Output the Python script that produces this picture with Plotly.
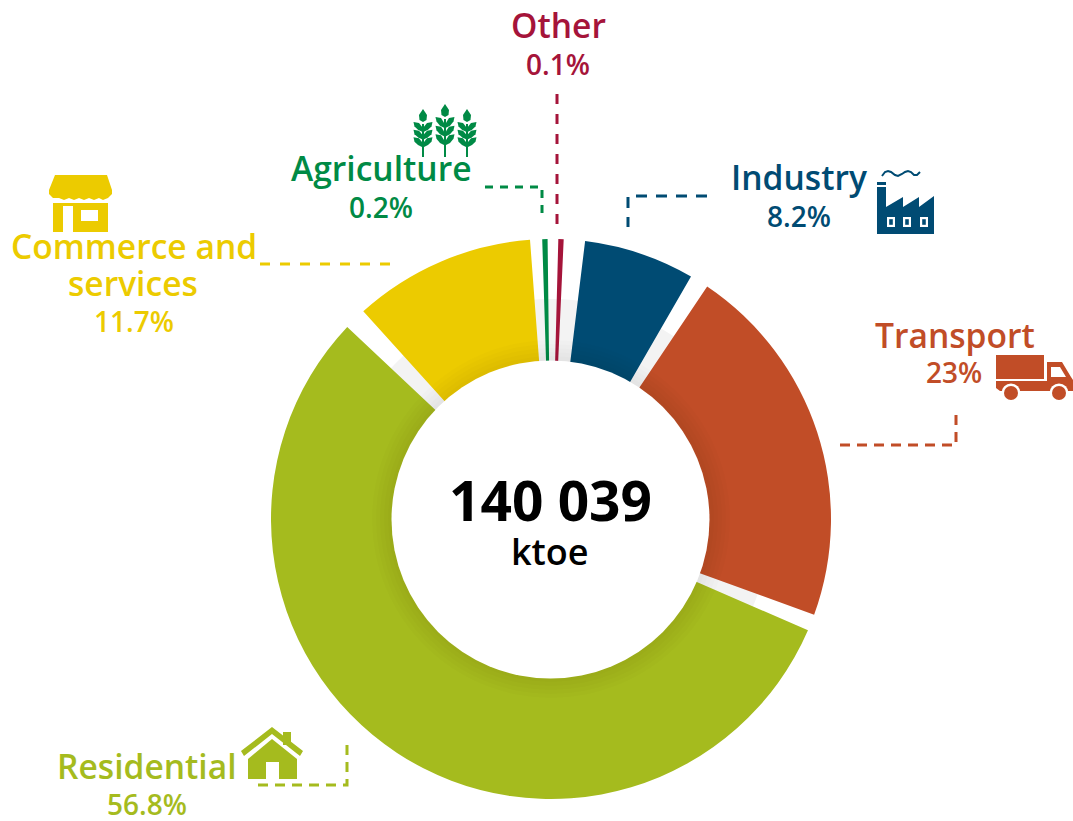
import plotly.graph_objects as go

W, H = 1073, 821
CX, CY = 551, 519
R_OUT, R_IN, R_GRAY = 280, 157, 220

# Slices clockwise from the top, with the white gaps the picture shows between them
categories = ["Agriculture", "gap1", "Other", "gap2", "Industry", "gap3", "Transport",
              "gap4", "Residential", "gap5", "Commerce and services", "gap6"]
drawn_arc = [1.1, 2.2, 1.1, 4.4, 23.0, 3.9, 76.1, 3.4, 199.9, 4.6, 37.8, 2.5]
slice_colors = ["#008a45", "rgba(0,0,0,0)", "#a5143a", "rgba(0,0,0,0)", "#004b73", "rgba(0,0,0,0)",
                "#c14d27", "rgba(0,0,0,0)", "#a5bb1e", "rgba(0,0,0,0)", "#eccb00", "rgba(0,0,0,0)"]

label_names = ["Other", "Agriculture", "Industry", "Transport", "Commerce and", "services", "Residential"]
label_shares = ["0.1%", "0.2%", "8.2%", "23%", "11.7%", "56.8%"]
total_value = "140 039"
total_unit = "ktoe"

OTHER, AGRI, IND, TRA, COM, RES = "#a5143a", "#008a45", "#004b73", "#c14d27", "#eccb00", "#a5bb1e"


def px(x):
    return x / W


def py(y):
    return 1 - y / H


def dom(r, cx=CX, cy=CY):
    return dict(x=[px(cx - r), px(cx + r)], y=[py(cy + r), py(cy - r)])


def ring(r_out, r_in, color):
    return go.Pie(values=[1], labels=["ring"], domain=dom(r_out), hole=r_in / r_out, sort=False,
                  marker=dict(colors=[color], line=dict(width=0)), textinfo="none",
                  hoverinfo="skip", showlegend=False)


fig = go.Figure()
fig.add_trace(ring(R_GRAY, R_IN, "#f3f3f3"))
fig.add_trace(go.Pie(values=drawn_arc, labels=categories, domain=dom(R_OUT), hole=R_IN / R_OUT,
                     sort=False, direction="clockwise", rotation=-1.8,
                     marker=dict(colors=slice_colors, line=dict(width=0)),
                     textinfo="none", hoverinfo="skip", showlegend=False))
for r in [163, 167, 171, 175, 179]:
    fig.add_trace(ring(r, R_IN, "rgba(0,0,0,0.013)"))

shapes = []


def d_of(pts):
    d = ""
    for i, p in enumerate(pts):
        d += ("M" if i == 0 else "L") + f"{px(p[0]):.5f},{py(p[1]):.5f}"
    return d


def path(pts, fill):
    shapes.append(dict(type="path", xref="paper", yref="paper", path=d_of(pts) + "Z",
                       fillcolor=fill, line=dict(width=0), layer="above"))


def rect(x0, y0, x1, y1, fill):
    path([(x0, y0), (x1, y0), (x1, y1), (x0, y1)], fill)


def circle(x, y, r, fill):
    shapes.append(dict(type="circle", xref="paper", yref="paper", x0=px(x - r), x1=px(x + r),
                       y0=py(y + r), y1=py(y - r), fillcolor=fill, line=dict(width=0), layer="above"))


def stroke(pts, color, width, dash="solid"):
    shapes.append(dict(type="path", xref="paper", yref="paper", path=d_of(pts),
                       line=dict(color=color, width=width, dash=dash), layer="above"))


# inner white disc
circle(550.5, 519.5, 159, "#ffffff")

# leader lines
stroke([(557, 94), (557, 224)], OTHER, 3, "10px,10px")
stroke([(485, 187), (542, 187), (542, 219)], AGRI, 3, "8px,7px")
stroke([(707, 196), (628, 196), (628, 227)], IND, 3, "11px,9px")
stroke([(260, 264), (390, 264)], COM, 3, "10px,10px")
stroke([(840, 445), (956, 445), (956, 412)], TRA, 3, "10px,7px")
stroke([(258, 785), (347, 785), (347, 743)], RES, 3, "10px,7px")

# store icon
path([(55, 175), (107, 175), (112, 190), (112, 194), (108, 198), (103, 200), (99, 198), (94, 200),
      (89, 198), (84, 200), (79, 198), (74, 200), (69, 198), (64, 200), (59, 198), (53, 198), (49, 194), (49, 190)], COM)
rect(53, 203, 108, 232, COM)
rect(63, 206, 73, 232, "#ffffff")
rect(81, 210, 98, 221, "#ffffff")

# wheat icon
for sx, top, bottom_head in [(423, 109, 145), (445, 104, 143), (467, 109, 145)]:
    rect(sx - 1, top + 15, sx + 1, 157, AGRI)
    path([(sx, top), (sx + 4, top + 6), (sx + 3.5, top + 11), (sx, top + 13), (sx - 3.5, top + 11), (sx - 4, top + 6)], AGRI)
    step = (bottom_head - top - 13) / 3
    for i in range(3):
        y = top + 13 + i * step
        for s in (-1, 1):
            path([(sx + s * 1, y + step + 2), (sx + s * 1, y + step - 3), (sx + s * 4, y + 1), (sx + s * 9.5, y),
                  (sx + s * 8.5, y + 4.5), (sx + s * 5, y + step)], AGRI)

# factory icon
rect(877, 182, 886, 185, IND)
path([(877, 187), (886, 187), (886, 207), (903, 197), (903, 207), (919, 197), (919, 207), (934, 196),
      (934, 234), (877, 234)], IND)
for wx in (887, 903, 920):
    rect(wx, 217, wx + 8, 227, "#ffffff")
    rect(wx + 2.2, 219.2, wx + 5.8, 224.8, IND)
stroke([(882, 176), (885, 172), (888, 171), (891, 172), (895, 175), (898, 176), (902, 174), (905, 172),
        (908, 171), (911, 172), (914, 175), (917, 175), (920, 172)], IND, 2)

# truck icon
rect(996, 355, 1044, 379, TRA)
path([(996, 381), (1047, 381), (1047, 362), (1062, 362), (1071, 377), (1073, 380), (1073, 391), (1000, 391), (996, 388)], TRA)
path([(1051, 367), (1060, 367), (1066, 377), (1051, 377)], "#ffffff")
circle(1011, 393, 9.5, "#ffffff")
circle(1059, 393, 9.5, "#ffffff")
circle(1011, 393, 7, TRA)
circle(1059, 393, 7, TRA)

# house icon
rect(283, 732, 291, 745, RES)
path([(272, 727), (303, 751), (300, 756), (272, 734), (244, 756), (241, 751)], RES)
path([(272, 739), (297, 759), (297, 779), (248, 779), (248, 759)], RES)
rect(266, 762, 279, 779, "#ffffff")


def text(x, y, s, color, size, weight=600):
    return dict(x=px(x), y=py(y), xref="paper", yref="paper", text=s, showarrow=False,
                xanchor="center", yanchor="middle",
                font=dict(family="Open Sans", size=size, color=color, weight=weight))


NAME, PCT = 33.6, 28
annotations = [
    text(558, 25, label_names[0], OTHER, NAME), text(558, 64, label_shares[0], OTHER, PCT),
    text(381, 168, label_names[1], AGRI, NAME), text(381, 207, label_shares[1], AGRI, PCT),
    text(799, 177, label_names[2], IND, NAME), text(799, 216, label_shares[2], IND, PCT),
    text(955, 335, label_names[3], TRA, NAME), text(954, 372, label_shares[3], TRA, PCT),
    text(134, 246, label_names[4], COM, NAME), text(133, 283, label_names[5], COM, NAME),
    text(134, 321, label_shares[4], COM, PCT),
    text(147, 766, label_names[6], RES, NAME), text(147, 804, label_shares[5], RES, PCT),
    text(550, 499, total_value, "#000000", 55, 700), text(550, 551, total_unit, "#000000", 36, 600),
]

fig.update_layout(width=W, height=H, margin=dict(l=0, r=0, t=0, b=0), paper_bgcolor="#ffffff",
                  showlegend=False, shapes=shapes, annotations=annotations)
fig.write_html("out.html", post_script="document.body.style.margin='0';",
               config=dict(displayModeBar=False))
